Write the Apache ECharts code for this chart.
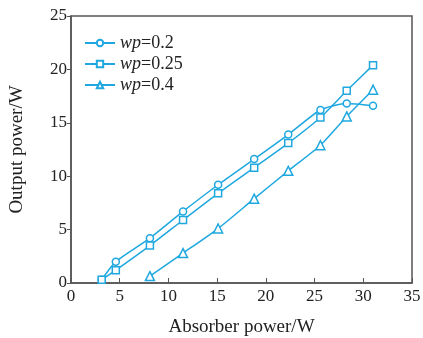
<!DOCTYPE html>
<html>
<head>
<meta charset="utf-8">
<script src="https://cdn.jsdelivr.net/npm/echarts@6/dist/echarts.min.js"></script>
<style>
  html, body { margin: 0; padding: 0; background: #fff; }
  #chart { width: 423px; height: 338px; }
</style>
</head>
<body>
<div id="chart"></div>
<script>
// data
const xTicks = [0, 5, 10, 15, 20, 25, 30, 35];
const yTicks = [0, 5, 10, 15, 20, 25];
const seriesNames = ['wp=0.2', 'wp=0.25', 'wp=0.4'];

const wp020 = [[3.15, 0.3], [4.6, 2.0], [8.1, 4.2], [11.5, 6.7], [15.1, 9.2], [18.8, 11.6], [22.3, 13.9], [25.6, 16.2], [28.3, 16.8], [31.0, 16.6]];
const wp025 = [[3.15, 0.3], [4.6, 1.2], [8.1, 3.5], [11.5, 5.9], [15.1, 8.4], [18.8, 10.8], [22.3, 13.1], [25.6, 15.5], [28.3, 18.0], [31.0, 20.4]];
const wp040 = [[8.1, 0.65], [11.5, 2.8], [15.1, 5.1], [18.8, 7.9], [22.3, 10.5], [25.6, 12.9], [28.3, 15.6], [31.0, 18.1]];

const symbols = ['circle', 'rect', 'triangle'];
const allData = [wp020, wp025, wp040];

const COLOR = '#1fa8e0';
const AXIS = '#555';
const FONT = '"Liberation Serif", "DejaVu Serif", serif';

const chart = echarts.init(document.getElementById('chart'));

const option = {
  backgroundColor: '#fff',
  animation: false,
  textStyle: { fontFamily: FONT },
  grid: {
    left: 71, right: 11, top: 16, bottom: 55,
    outerBoundsMode: 'none',
    show: true, borderColor: AXIS, borderWidth: 1.5
  },
  legend: {
    orient: 'vertical',
    left: 79,
    top: 29,
    itemWidth: 30,
    itemHeight: 8,
    itemGap: 3,
    data: seriesNames,
    formatter: name => '{i|wp}{n|' + name.slice(2) + '}',
    textStyle: {
      rich: {
        i: { fontFamily: FONT, fontStyle: 'italic', fontSize: 18, color: '#222' },
        n: { fontFamily: FONT, fontSize: 18, color: '#222' }
      }
    }
  },
  xAxis: {
    type: 'value',
    min: xTicks[0],
    max: xTicks[xTicks.length - 1],
    interval: 5,
    name: 'Absorber power/W',
    nameLocation: 'middle',
    nameGap: 35,
    nameTextStyle: { fontFamily: FONT, fontSize: 19, color: '#222' },
    axisLine: { lineStyle: { color: AXIS, width: 1.5 } },
    axisTick: { inside: true, length: 5, lineStyle: { color: AXIS } },
    axisLabel: { fontFamily: FONT, fontSize: 17, color: '#222', margin: 5 },
    splitLine: { show: false }
  },
  yAxis: {
    type: 'value',
    min: yTicks[0],
    max: yTicks[yTicks.length - 1],
    interval: 5,
    name: 'Output power/W',
    nameLocation: 'middle',
    nameGap: 44,
    nameTextStyle: { fontFamily: FONT, fontSize: 19, color: '#222' },
    axisLine: { lineStyle: { color: AXIS, width: 1.5 } },
    axisTick: { inside: false, length: 4, lineStyle: { color: AXIS } },
    axisLabel: { fontFamily: FONT, fontSize: 17, color: '#222', margin: 4 },
    splitLine: { show: false }
  },
  series: seriesNames.map((name, i) => ({
    name: name,
    type: 'line',
    data: allData[i],
    smooth: 0.2,
    symbol: symbols[i],
    symbolSize: i === 2 ? 9 : 7,
    showAllSymbol: true,
    lineStyle: { color: COLOR, width: 1.5 },
    itemStyle: { color: '#fff', borderColor: COLOR, borderWidth: 1.5 }
  }))
};

chart.setOption(option);
</script>
</body>
</html>
